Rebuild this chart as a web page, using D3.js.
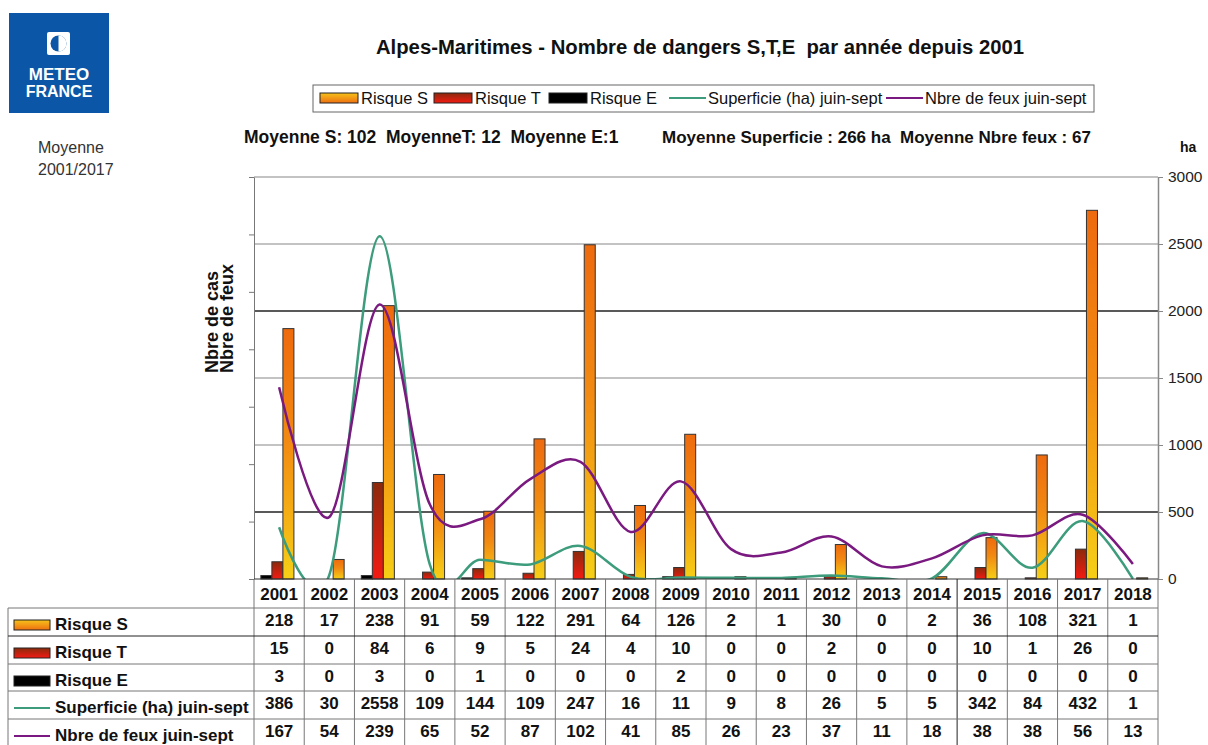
<!DOCTYPE html>
<html><head><meta charset="utf-8">
<script src="https://cdn.jsdelivr.net/npm/d3@7"></script>
<style>
html,body{margin:0;padding:0;background:#fff;}
svg text{font-family:"Liberation Sans",Arial,sans-serif;white-space:pre;}
</style></head>
<body><svg id="c" width="1208" height="745"></svg>
<script>
const years = ["2001","2002","2003","2004","2005","2006","2007","2008","2009","2010","2011","2012","2013","2014","2015","2016","2017","2018"];
const riskS = [218,17,238,91,59,122,291,64,126,2,1,30,0,2,36,108,321,1];
const riskT = [15,0,84,6,9,5,24,4,10,0,0,2,0,0,10,1,26,0];
const riskE = [3,0,3,0,1,0,0,0,2,0,0,0,0,0,0,0,0,0];
const superficie = [386,30,2558,109,144,109,247,16,11,9,8,26,5,5,342,84,432,1];
const nbFeux = [167,54,239,65,52,87,102,41,85,26,23,37,11,18,38,38,56,13];
const leftTicks = [0,50,100,150,200,250,300,350];
const rightTicks = [0,500,1000,1500,2000,2500,3000];
const seriesNames = ["Risque S","Risque T","Risque E","Superficie (ha) juin-sept","Nbre de feux juin-sept"];
const title = "Alpes-Maritimes - Nombre de dangers S,T,E  par année depuis 2001";
const statsLeft = "Moyenne S: 102  MoyenneT: 12  Moyenne E:1";
const statsRight = "Moyenne Superficie : 266 ha  Moyenne Nbre feux : 67";

const svg = d3.select("#c");
const X0 = 254, X1 = 1158, YT = 177, YB = 579;
const GREEN = "#3c9c7c", PURPLE = "#7a1a80";

const defs = svg.append("defs");
const gS = defs.append("linearGradient").attr("id","gS").attr("x1",0).attr("y1",0).attr("x2",0).attr("y2",1);
gS.append("stop").attr("offset","0%").attr("stop-color","#ee6a0e");
gS.append("stop").attr("offset","45%").attr("stop-color","#f28a12");
gS.append("stop").attr("offset","100%").attr("stop-color","#f6cf16");
const gT = defs.append("linearGradient").attr("id","gT").attr("x1",0).attr("y1",0).attr("x2",0).attr("y2",1);
gT.append("stop").attr("offset","0%").attr("stop-color","#8a2a0c");
gT.append("stop").attr("offset","100%").attr("stop-color","#f41a12");
const gSl = defs.append("linearGradient").attr("id","gSl").attr("x1",0).attr("y1",0).attr("x2",0).attr("y2",1);
gSl.append("stop").attr("offset","0%").attr("stop-color","#f6c21a");
gSl.append("stop").attr("offset","100%").attr("stop-color","#ee7010");
defs.append("clipPath").attr("id","clip").append("rect").attr("x",X0).attr("y",YT).attr("width",X1-X0).attr("height",YB-YT);

svg.append("rect").attr("width",1208).attr("height",745).attr("fill","#fff");

// Logo
const logo = svg.append("g");
logo.append("rect").attr("x",9).attr("y",13).attr("width",100).attr("height",100).attr("fill","#0b56a6");
logo.append("rect").attr("x",47).attr("y",32).attr("width",23).attr("height",23).attr("rx",2).attr("fill","#fff");
logo.append("circle").attr("cx",58.5).attr("cy",43.5).attr("r",8).attr("fill","#0b56a6");
logo.append("path").attr("d","M58.5,35.5 A8,8 0 0 1 58.5,51.5 Z").attr("fill","#fff");
logo.append("text").attr("x",59).attr("y",80).attr("text-anchor","middle").attr("fill","#fff").attr("font-weight","bold").attr("font-size",17).text("METEO");
logo.append("text").attr("x",59).attr("y",97).attr("text-anchor","middle").attr("fill","#fff").attr("font-weight","bold").attr("font-size",16).text("FRANCE");

svg.append("text").attr("x",38).attr("y",153).attr("font-size",16).attr("fill","#333").text("Moyenne");
svg.append("text").attr("x",38).attr("y",175).attr("font-size",16).attr("fill","#333").text("2001/2017");

// Title
svg.append("text").attr("x",700).attr("y",54).attr("text-anchor","middle").attr("font-weight","bold").attr("font-size",20.3).attr("fill","#111").text(title);

// Legend
svg.append("rect").attr("x",313).attr("y",85).attr("width",781).attr("height",27).attr("fill","#fff").attr("stroke","#666");
const legItems = [
  {name:seriesNames[0], type:"rect", fill:"url(#gSl)", x:320},
  {name:seriesNames[1], type:"rect", fill:"url(#gT)", x:434},
  {name:seriesNames[2], type:"rect", fill:"#000", x:549},
  {name:seriesNames[3], type:"line", stroke:GREEN, x:669},
  {name:seriesNames[4], type:"line", stroke:PURPLE, x:886}
];
const lg = svg.append("g").selectAll("g").data(legItems).join("g").attr("transform",d=>`translate(${d.x},98)`);
lg.filter(d=>d.type==="rect").append("rect").attr("x",0).attr("y",-5).attr("width",38).attr("height",10).attr("fill",d=>d.fill).attr("stroke","#222");
lg.filter(d=>d.type==="line").append("line").attr("x1",0).attr("x2",37).attr("y1",0).attr("y2",0).attr("stroke",d=>d.stroke).attr("stroke-width",2);
lg.append("text").attr("x",d=>d.type==="rect"?41:39).attr("y",6).attr("font-size",16.5).attr("fill","#111").text(d=>d.name);

// Stats
svg.append("text").attr("x",244).attr("y",143).attr("font-size",17.5).attr("font-weight","bold").attr("fill","#111").text(statsLeft);
svg.append("text").attr("x",662).attr("y",143).attr("font-size",17).attr("font-weight","bold").attr("fill","#111").text(statsRight);
svg.append("text").attr("x",1180).attr("y",152).attr("font-size",14).attr("font-weight","bold").attr("fill","#111").text("ha");

// Scales
const x = d3.scaleBand().domain(years).range([X0,X1]).padding(0);
const sub = d3.scaleBand().domain(["E","T","S"]).range([0,x.bandwidth()]).paddingInner(0).paddingOuter(0.78).align(0.4);
const yL = d3.scaleLinear().domain([0,350]).range([YB,YT]);
const yR = d3.scaleLinear().domain([0,3000]).range([YB,YT]);

// Gridlines
svg.append("g").selectAll("line").data(rightTicks.filter(v=>v>0)).join("line")
  .attr("x1",X0).attr("x2",X1).attr("y1",d=>yR(d)).attr("y2",d=>yR(d))
  .attr("stroke",d=>(d===2000||d===500)?"#222":"#888").attr("stroke-width",d=>(d===2000||d===500)?1.4:1.2);

// Bars
const barData = [];
years.forEach((yv,i)=>{
  barData.push({year:yv,k:"E",v:riskE[i],fill:"#000"});
  barData.push({year:yv,k:"T",v:riskT[i],fill:"url(#gT)"});
  barData.push({year:yv,k:"S",v:riskS[i],fill:"url(#gS)"});
});
svg.append("g").selectAll("rect").data(barData.filter(d=>d.v>0)).join("rect")
  .attr("x",d=>x(d.year)+sub(d.k)).attr("width",sub.bandwidth())
  .attr("y",d=>yL(d.v)).attr("height",d=>YB-yL(d.v))
  .attr("fill",d=>d.fill).attr("stroke","#333").attr("stroke-width",1);

// Lines
const cx = d=>x(d)+x.bandwidth()/2;
const lineR = d3.line().x((d,i)=>cx(years[i])).y(d=>yR(d)).curve(d3.curveCardinal.tension(0));
const lineL = d3.line().x((d,i)=>cx(years[i])).y(d=>yL(d)).curve(d3.curveCardinal.tension(0));
const lg2 = svg.append("g").attr("clip-path","url(#clip)");
lg2.append("path").attr("d",lineR(superficie)).attr("fill","none").attr("stroke",GREEN).attr("stroke-width",2.5);
lg2.append("path").attr("d",lineL(nbFeux)).attr("fill","none").attr("stroke",PURPLE).attr("stroke-width",2.5);

// Axes
const axL = svg.append("g").attr("transform",`translate(${X0},0)`).call(d3.axisLeft(yL).tickValues(leftTicks).tickFormat("").tickSize(5).tickSizeOuter(0));
axL.select(".domain").attr("stroke","#777");
axL.selectAll(".tick line").attr("stroke","#777");
const axR = svg.append("g").attr("transform",`translate(${X1},0)`).call(d3.axisRight(yR).tickValues(rightTicks).tickFormat(d3.format("d")).tickSize(5).tickSizeOuter(0).tickPadding(5));
axR.select(".domain").attr("stroke","#888").attr("stroke-width",1.5);
axR.selectAll(".tick line").attr("stroke","#888");
axR.selectAll(".tick text").attr("font-size",15.5).attr("fill","#222").attr("font-family","Liberation Sans, Arial, sans-serif");
svg.append("line").attr("x1",X0).attr("x2",X1).attr("y1",YB).attr("y2",YB).attr("stroke","#333");

// Axis titles
const at = svg.append("text").attr("transform","translate(218,373) rotate(-90)").attr("font-size",18).attr("font-weight","bold").attr("fill","#111");
at.append("tspan").attr("x",0).attr("y",0).text("Nbre de cas");
at.append("tspan").attr("x",0).attr("y",15).text("Nbre de feux");

// Table
const rowTops = [608,636,664,691,719,747];
const tbl = svg.append("g");
const rowsData = [riskS,riskT,riskE,superficie,nbFeux];
tbl.selectAll("line.v").data(years.concat(["end"])).join("line")
  .attr("x1",d=>d==="end"?X1:x(d)).attr("x2",d=>d==="end"?X1:x(d)).attr("y1",YB).attr("y2",760)
  .attr("stroke",d=>d==="2015"?"#222":"#777").attr("stroke-width",1);
tbl.append("line").attr("x1",8).attr("x2",8).attr("y1",608).attr("y2",760).attr("stroke","#777");
tbl.selectAll("line.h").data(rowTops).join("line")
  .attr("x1",8).attr("x2",X1).attr("y1",d=>d).attr("y2",d=>d)
  .attr("stroke",(d,i)=>i===1?"#222":"#777").attr("stroke-width",1);
tbl.selectAll("text.yr").data(years).join("text").attr("x",d=>cx(d)).attr("y",600).attr("text-anchor","middle")
  .attr("font-size",17).attr("font-weight","bold").attr("fill","#111").text(d=>d);
rowsData.forEach((arr,r)=>{
  tbl.append("g").selectAll("text").data(arr).join("text")
    .attr("x",(d,i)=>cx(years[i])).attr("y",rowTops[r]+18).attr("text-anchor","middle")
    .attr("font-size",17).attr("font-weight","bold").attr("fill","#111").text(d=>d);
});
const swFills = ["url(#gSl)","url(#gT)","#000"];
seriesNames.forEach((n,r)=>{
  const yc = rowTops[r]+18;
  if(r<3) tbl.append("rect").attr("x",14).attr("y",yc-6).attr("width",36).attr("height",10).attr("fill",swFills[r]).attr("stroke","#222");
  else tbl.append("line").attr("x1",14).attr("x2",50).attr("y1",yc-1).attr("y2",yc-1).attr("stroke",r===3?GREEN:PURPLE).attr("stroke-width",2);
  tbl.append("text").attr("x",55).attr("y",yc+4).attr("font-size",17).attr("font-weight","bold").attr("fill","#111").text(n);
});
</script></body></html>
